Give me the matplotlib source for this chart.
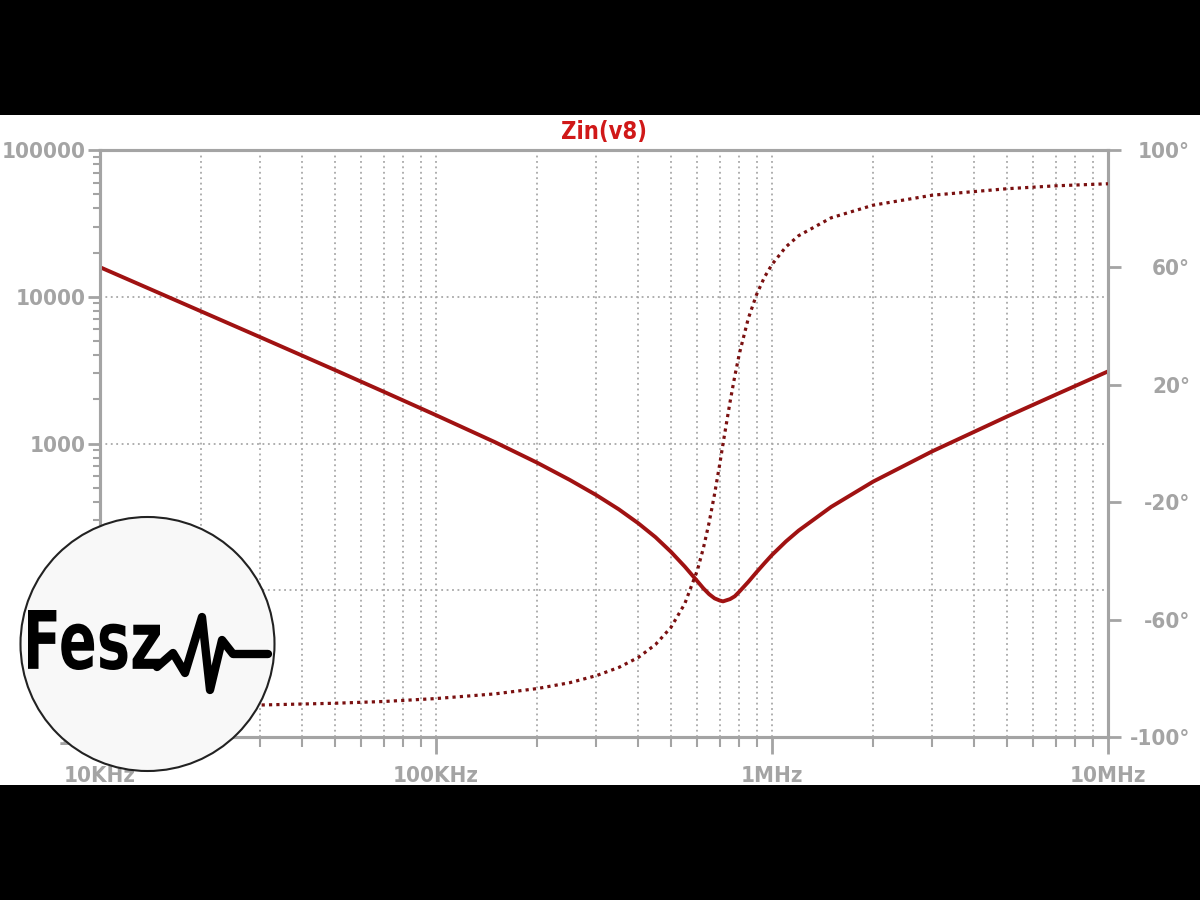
import matplotlib
matplotlib.use("Agg")
import matplotlib.pyplot as plt
import numpy as np
from matplotlib.ticker import LogLocator, NullFormatter, FixedLocator
from matplotlib.patches import Rectangle, Circle, PathPatch
from matplotlib.textpath import TextPath
from matplotlib.font_manager import FontProperties
from matplotlib.transforms import Affine2D
from matplotlib.lines import Line2D

# Zin(v8): frequency sweep
freq_khz = [10, 15, 20, 30, 50, 70, 100, 150, 200, 250, 300, 350, 400, 450, 500,
            550, 600, 625, 650, 675, 700, 715, 750, 775, 800, 850, 900, 950,
            1000, 1100, 1200, 1500, 2000, 3000, 5000, 7000, 10000]
zin_ohm = [15900, 10600, 7950, 5300, 3170, 2250, 1560, 1020, 740, 565, 445, 356,
           286, 230, 183, 145, 115, 103, 94, 88, 85, 84, 87, 91, 98, 114, 133,
           153, 174, 215, 255, 370, 550, 885, 1525, 2155, 3100]
phase_deg = [-89.7, -89.5, -89.4, -89.1, -88.5, -87.9, -86.9, -85.3, -83.5, -81.5,
             -79.1, -76.3, -72.9, -68.5, -62.7, -54.6, -43.1, -35.6, -26.9, -17.1,
             -6.6, 0.0, 14.1, 23.0, 30.7, 42.6, 50.8, 56.7, 61.0, 67.0, 70.8, 76.9,
             81.2, 84.6, 86.8, 87.8, 88.5]

x_ticks = [1e4, 1e5, 1e6, 1e7]
x_labels = ["10KHz", "100KHz", "1MHz", "10MHz"]
mag_ticks = [10, 100, 1000, 10000, 100000]
mag_labels = ["10", "100", "1000", "10000", "100000"]
ph_ticks = [-100, -60, -20, 20, 60, 100]
ph_labels = ["-100°", "-60°", "-20°", "20°", "60°", "100°"]

freq_hz = np.array(freq_khz) * 1e3

gray = "#a4a4a4"
red_line = "#a01212"
lab_font = dict(family="DejaVu Sans", stretch="condensed", weight="bold", size=16)

fig = plt.figure(figsize=(12, 9), dpi=100, facecolor="black")
# white band in the middle of the black frame
fig.add_artist(Rectangle((0, 115 / 900), 1, 670 / 900, transform=fig.transFigure,
                         facecolor="white", edgecolor="none", zorder=-10))

ax = fig.add_axes([100 / 1200, 163 / 900, 1008 / 1200, 587 / 900])
ax.set_facecolor("white")
ax.set_xscale("log")
ax.set_yscale("log")
ax.set_xlim(1e4, 1e7)
ax.set_ylim(10, 100000)

ax.xaxis.set_major_locator(FixedLocator(x_ticks))
ax.set_xticklabels(x_labels)
ax.xaxis.set_minor_locator(LogLocator(base=10, subs=np.arange(2, 10)))
ax.xaxis.set_minor_formatter(NullFormatter())
ax.yaxis.set_major_locator(FixedLocator(mag_ticks))
ax.set_yticklabels(mag_labels)
ax.yaxis.set_minor_locator(LogLocator(base=10, subs=np.arange(2, 10)))
ax.yaxis.set_minor_formatter(NullFormatter())

for lab in ax.get_xticklabels() + ax.get_yticklabels():
    lab.set_fontproperties(FontProperties(**lab_font))
    lab.set_color(gray)

ax.tick_params(axis="x", which="major", direction="out", length=12, width=2,
               color=gray, pad=9)
ax.tick_params(axis="x", which="minor", direction="out", length=7, width=1.5,
               color=gray)
ax.tick_params(axis="y", which="major", direction="out", length=9, width=2,
               color=gray, pad=1)
ax.tick_params(axis="y", which="minor", direction="out", length=5, width=1.5,
               color=gray)

ax.grid(True, which="both", axis="x", color="#a8a8a8", linestyle=(0, (1, 2)), lw=1.3)
ax.grid(True, which="major", axis="y", color="#a8a8a8", linestyle=(0, (1, 2)), lw=1.3)

for sp in ax.spines.values():
    sp.set_color(gray)
    sp.set_linewidth(2.2)

ax.plot(freq_hz, zin_ohm, color=red_line, lw=2.8, solid_capstyle="round", zorder=3)

ax2 = ax.twinx()
ax2.set_ylim(-100, 100)
ax2.yaxis.set_major_locator(FixedLocator(ph_ticks))
ax2.set_yticklabels(ph_labels)
ax2.tick_params(axis="y", which="major", direction="out", length=9, width=2,
                color=gray, pad=50)
for lab in ax2.get_yticklabels():
    lab.set_fontproperties(FontProperties(**lab_font))
    lab.set_color(gray)
    lab.set_horizontalalignment("right")
for sp in ax2.spines.values():
    sp.set_color(gray)
    sp.set_linewidth(2.2)

ax2.plot(freq_hz, phase_deg, color="#7a1010", lw=2.3, linestyle=(0, (1, 1.3)), zorder=3)

ax.set_title("Zin(v8)", color="#d01818", fontsize=17, fontweight="bold",
             fontstretch="condensed", pad=8)

# pixel coordinates of the picture (y down) -> figure
pix = Affine2D().scale(1 / 1200, -1 / 900).translate(0, 1) + fig.transFigure

# Fesz logo
fig.add_artist(Circle((147.5, 644), 127, transform=pix, facecolor="#f8f8f8",
                      edgecolor="#222222", lw=1.5, zorder=5))
tp = TextPath((0, 0), "Fesz", size=1, prop=FontProperties(family="DejaVu Sans", weight="bold"))
ext = tp.get_extents()
sx = 132 / ext.width
sy = 60 / ext.height
tr = Affine2D().translate(-ext.x0, -ext.y0).scale(sx, -sy).translate(28, 670) + pix
fig.add_artist(PathPatch(tp, transform=tr, facecolor="black", edgecolor="none", zorder=6))
wave_x = [157, 173, 185, 202, 210, 222, 233, 268]
wave_y = [667, 653, 673, 617, 690, 640, 654, 654]
fig.add_artist(Line2D(wave_x, wave_y, transform=pix, color="black", lw=6,
                      solid_joinstyle="round", solid_capstyle="round", zorder=6))

# black bars on top
fig.add_artist(Rectangle((0, 0), 1, 115 / 900, transform=fig.transFigure,
                         facecolor="black", edgecolor="none", zorder=10))
fig.add_artist(Rectangle((0, 785 / 900), 1, 115 / 900, transform=fig.transFigure,
                         facecolor="black", edgecolor="none", zorder=10))

fig.savefig("out.png", dpi=100, facecolor="black")
